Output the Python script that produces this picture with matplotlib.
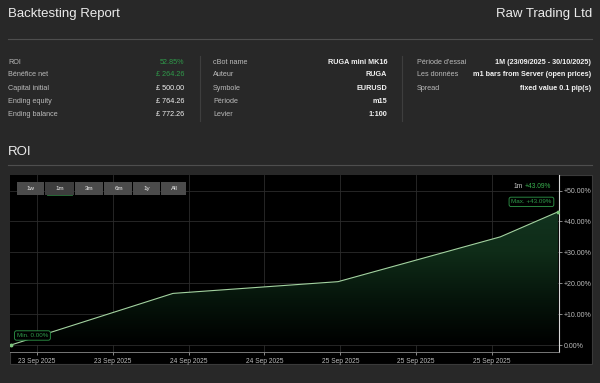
import numpy as np
import matplotlib
matplotlib.use("Agg")
import matplotlib.pyplot as plt
import matplotlib.dates as mdates
from matplotlib.patches import Rectangle, Polygon
from matplotlib.colors import LinearSegmentedColormap
from datetime import datetime, timedelta

# data
roi_times = ["2025-09-23 06:34", "2025-09-24 03:56", "2025-09-25 01:42",
             "2025-09-25 23:06", "2025-09-26 06:42"]
roi_values = [0.0, 16.7, 20.5, 35.0, 43.09]

col1_labels = ["ROI", "Bénéfice net", "Capital initial", "Ending equity", "Ending balance"]
col1_values = ["52.85%", "£ 264.26", "£ 500.00", "£ 764.26", "£ 772.26"]
col2_labels = ["cBot name", "Auteur", "Symbole", "Période", "Levier"]
col2_values = ["RUGA mini MK16", "RUGA", "EURUSD", "m15", "1:100"]
col3_labels = ["Période d'essai", "Les données", "Spread"]
col3_values = ["1M (23/09/2025 - 30/10/2025)", "m1 bars from Server (open prices)",
               "fixed value 0.1 pip(s)"]
buttons = ["1w", "1m", "3m", "6m", "1y", "All"]
y_ticks = [0, 10, 20, 30, 40, 50]

W, H = 600, 383
BG = "#282828"
GREEN = "#2f9a4a"

plt.rcParams["font.family"] = ["Liberation Sans", "DejaVu Sans"]

fig = plt.figure(figsize=(6, 3.83), dpi=100, facecolor=BG)


def fx(px):
    return px / W


def fy(py):
    return 1 - py / H


def hline(y, x0=8, x1=592, color="#4e4e4e", lw=0.8):
    fig.add_artist(plt.Line2D([fx(x0), fx(x1)], [fy(y), fy(y)], color=color, lw=lw))


# header
fig.text(fx(8), fy(14), "Backtesting Report", color="#ececec", fontsize=9.5, va="center")
fig.text(fx(592), fy(14), "Raw Trading Ltd", color="#ececec", fontsize=9.5, va="center", ha="right")
hline(38.5)

# stats block
rows_y = [62, 75, 88.5, 101.5, 114.5]
lab_col = "#b9b9b9"
val_col = "#f2f2f2"
fs = 5.2
for i, (l, v) in enumerate(zip(col1_labels, col1_values)):
    fig.text(fx(8), fy(rows_y[i]), l, color=lab_col, fontsize=fs, va="center")
    fig.text(fx(184), fy(rows_y[i]), v, color=GREEN if i < 2 else val_col,
             fontsize=fs, va="center", ha="right")
for i, (l, v) in enumerate(zip(col2_labels, col2_values)):
    fig.text(fx(213), fy(rows_y[i]), l, color=lab_col, fontsize=fs, va="center")
    fig.text(fx(387), fy(rows_y[i]), v, color=val_col, fontsize=fs, va="center",
             ha="right", fontweight="bold")
for i, (l, v) in enumerate(zip(col3_labels, col3_values)):
    fig.text(fx(417), fy(rows_y[i]), l, color=lab_col, fontsize=fs, va="center")
    fig.text(fx(591), fy(rows_y[i]), v, color=val_col, fontsize=fs, va="center",
             ha="right", fontweight="bold")
for xs in (199.5, 402.5):
    fig.add_artist(plt.Line2D([fx(xs), fx(xs)], [fy(56), fy(121)], color="#3e3e3e", lw=0.8))

# ROI title
fig.text(fx(8), fy(152), "ROI", color="#ececec", fontsize=9.5, va="center")
hline(164.5)

# chart box (behind the axes)
fig.add_artist(Rectangle((fx(10), fy(364)), fx(581.5), (364 - 174.5) / H,
                         transform=fig.transFigure, facecolor="black",
                         edgecolor="#3a3a3a", lw=0.8, zorder=-5))

ax = fig.add_axes([fx(10), fy(352), fx(559 - 10), (352 - 174.5) / H])
ax.set_facecolor("black")

t = mdates.date2num([datetime.strptime(s, "%Y-%m-%d %H:%M") for s in roi_times])
v = np.array(roi_values)

t0 = datetime(2025, 9, 23, 10, 0)
xticks = [t0 + timedelta(hours=10 * k) for k in range(7)]
px_per_h = 75.83 / 10
xmin = mdates.date2num(t0 - timedelta(hours=27 / px_per_h))
xmax = mdates.date2num(t0 + timedelta(hours=(559 - 37) / px_per_h))
ylim = (-7 / 3.09, (345 - 174.5) / 3.09)

# gradient fill under the line
cmap = LinearSegmentedColormap.from_list("g", ["#000000", "#06150b", "#0f2c18", "#123420"])
grad = np.linspace(0, 1, 256).reshape(-1, 1)
im = ax.imshow(grad, extent=[t[0], t[-1], 0, 45], origin="lower", aspect="auto",
               cmap=cmap, zorder=1)
poly = Polygon(np.column_stack([np.r_[t[0], t, t[-1]], np.r_[0, v, 0]]),
               closed=True, transform=ax.transData, facecolor="none", edgecolor="none")
ax.add_patch(poly)
im.set_clip_path(poly)

ax.plot(t, v, color="#a3d2a0", lw=0.8, zorder=3)
ax.plot([t[0], t[-1]], [v[0], v[-1]], "o", color="#7cc47c", ms=1.8, zorder=4)
ax.set_xlim(xmin, xmax)
ax.set_ylim(*ylim)

ax.set_xticks(mdates.date2num(xticks))
ax.xaxis.set_major_formatter(mdates.DateFormatter("%d %b %Y"))
ax.set_yticks(y_ticks)
ax.set_yticklabels([("+%.2f%%" % y) if y > 0 else "%.2f%%" % y for y in y_ticks])
ax.yaxis.tick_right()
ax.tick_params(axis="x", colors="#bdbdbd", labelsize=4.8, length=2, width=0.5, pad=2)
ax.tick_params(axis="y", colors="#bdbdbd", labelsize=5, length=2.5, width=0.5, pad=1)
ax.grid(True, color="#2c2c2c", lw=0.6, zorder=0)
ax.set_axisbelow(True)
for s in ("top", "left"):
    ax.spines[s].set_visible(False)
ax.spines["right"].set_color("#d8d8d8")
ax.spines["right"].set_linewidth(0.8)
ax.spines["bottom"].set_color("#8a8a8a")
ax.spines["bottom"].set_linewidth(0.6)

# min / max labels
box = dict(boxstyle="round,pad=0.35,rounding_size=0.3", fc="black", ec=GREEN, lw=0.6)
ax.annotate("Min. 0.00%", (t[0], v[0]), xytext=(21.5, 9.5), textcoords="offset pixels",
            color=GREEN, fontsize=4.5, ha="center", va="center", bbox=box, zorder=5)
ax.annotate("Max. +43.09%", (t[-1], v[-1]), xytext=(-26.5, 10), textcoords="offset pixels",
            color=GREEN, fontsize=4.5, ha="center", va="center", bbox=box, zorder=5)
fig.text(fx(523), fy(186), "1m", color="#c8c8c8", fontsize=4.8, va="center", ha="right")
fig.text(fx(525), fy(186), "+43.09%", color="#39b04f", fontsize=4.8, va="center", ha="left")

# range selector buttons
edges = [16.7, 44.5, 74.7, 104, 133, 161, 187]
for i, lab in enumerate(buttons):
    x0, x1 = edges[i], edges[i + 1]
    fc = "#3d3d3d" if lab == "1m" else "#4b4b4b"
    fig.add_artist(Rectangle((fx(x0), fy(195)), fx(x1 - x0 - 0.6), 13 / H,
                             transform=fig.transFigure, facecolor=fc, edgecolor="none",
                             zorder=6))
    fig.text(fx((x0 + x1) / 2), fy(188.5), lab, color="#f0f0f0", fontsize=4.5,
             ha="center", va="center", zorder=7)
fig.add_artist(plt.Line2D([fx(47), fx(72)], [fy(194.6), fy(194.6)], color="#2f7a40",
                          lw=0.6, zorder=7))

fig.savefig("out.png", dpi=100, facecolor=BG)
